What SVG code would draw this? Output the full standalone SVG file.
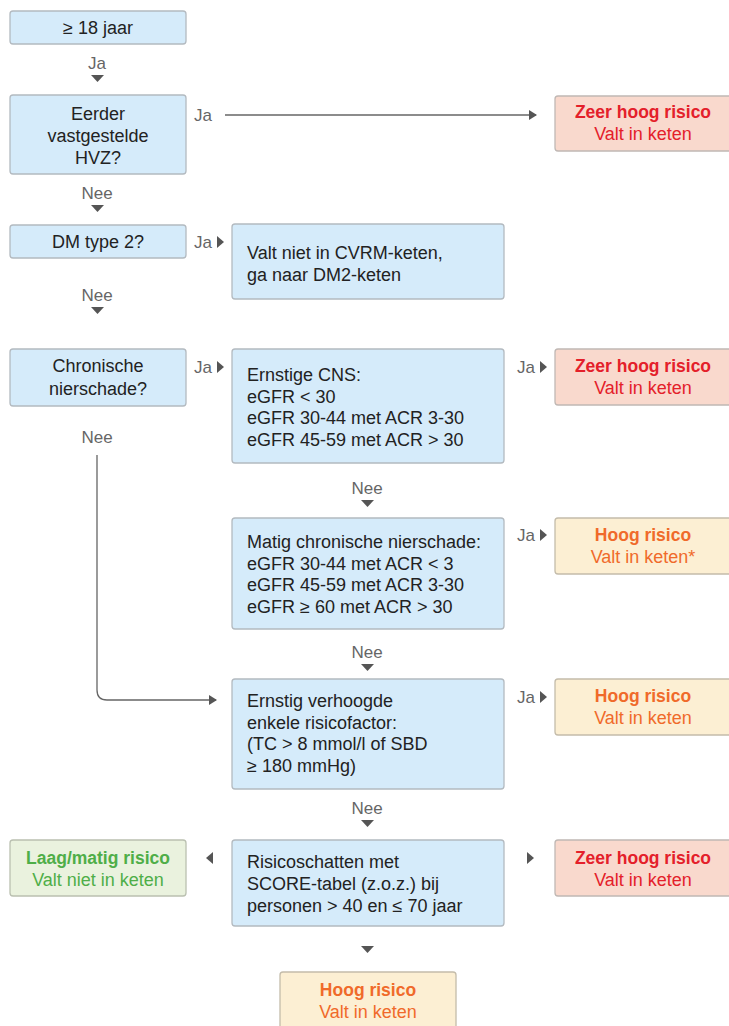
<svg xmlns="http://www.w3.org/2000/svg" width="729" height="1026" viewBox="0 0 729 1026">
<defs>
<style>
text{font-family:"Liberation Sans",Arial,sans-serif;font-size:18px;}
.b{fill:#d5ebfa;stroke:#b3bac0;stroke-width:1.3;}
.r{fill:#f9d9cd;stroke:#c0b8b4;stroke-width:1.3;}
.o{fill:#fcefd3;stroke:#c4bcaa;stroke-width:1.3;}
.g{fill:#eaf2de;stroke:#bac0b0;stroke-width:1.3;}
.t{fill:#222;}
.c{text-anchor:middle;}
.lbl{fill:#666;font-size:17px;}
.rt{fill:#e4202a;}
.ot{fill:#f06a2a;}
.gt{fill:#4fae48;}
.bold{font-weight:bold;font-size:17.5px;}
.tri{fill:#555;}
.ln{fill:none;stroke:#666;stroke-width:1.3;}
</style>
<marker id="ah" markerWidth="8" markerHeight="10" refX="7" refY="5" orient="auto" markerUnits="userSpaceOnUse"><path d="M0,0 L8,5 L0,10 Z" fill="#555"/></marker>
</defs>

<g id="n-age"><rect class="b" x="10" y="11" width="176" height="33" rx="3"/><text class="t c" x="98" y="34">≥ 18 jaar</text></g>
<g id="n-hvz"><rect class="b" x="10" y="95" width="176" height="79" rx="3"/><text class="t c" x="98" y="120">Eerder</text><text class="t c" x="98" y="142">vastgestelde</text><text class="t c" x="98" y="164">HVZ?</text></g>
<g id="n-zeer1"><rect class="r" x="555" y="96" width="178" height="55" rx="3"/><text class="rt c bold" x="643" y="118">Zeer hoog risico</text><text class="rt c" x="643" y="140">Valt in keten</text></g>
<g id="n-dm"><rect class="b" x="10" y="225" width="176" height="33" rx="3"/><text class="t c" x="98" y="248">DM type 2?</text></g>
<g id="n-dm2"><rect class="b" x="232" y="224" width="272" height="75" rx="3"/><text class="t" x="247" y="259">Valt niet in CVRM-keten,</text><text class="t" x="247" y="281">ga naar DM2-keten</text></g>
<g id="n-cns"><rect class="b" x="10" y="349" width="176" height="57" rx="3"/><text class="t c" x="98" y="372">Chronische</text><text class="t c" x="98" y="395">nierschade?</text></g>
<g id="n-ernstig"><rect class="b" x="232" y="349" width="272" height="114" rx="3"/><text class="t" x="247" y="381">Ernstige CNS:</text><text class="t" x="247" y="402.5">eGFR &lt; 30</text><text class="t" x="247" y="424">eGFR 30-44 met ACR 3-30</text><text class="t" x="247" y="445.5">eGFR 45-59 met ACR &gt; 30</text></g>
<g id="n-zeer2"><rect class="r" x="555" y="349" width="178" height="56" rx="3"/><text class="rt c bold" x="643" y="372">Zeer hoog risico</text><text class="rt c" x="643" y="394">Valt in keten</text></g>
<g id="n-matig"><rect class="b" x="232" y="518" width="272" height="111" rx="3"/><text class="t" x="247" y="548">Matig chronische nierschade:</text><text class="t" x="247" y="569.5">eGFR 30-44 met ACR &lt; 3</text><text class="t" x="247" y="591">eGFR 45-59 met ACR 3-30</text><text class="t" x="247" y="612.5">eGFR ≥ 60 met ACR &gt; 30</text></g>
<g id="n-hoog1"><rect class="o" x="555" y="518" width="178" height="56" rx="3"/><text class="ot c bold" x="643" y="541">Hoog risico</text><text class="ot c" x="643" y="563">Valt in keten*</text></g>
<g id="n-factor"><rect class="b" x="232" y="679" width="272" height="110" rx="3"/><text class="t" x="247" y="707">Ernstig verhoogde</text><text class="t" x="247" y="728.5">enkele risicofactor:</text><text class="t" x="247" y="750">(TC &gt; 8 mmol/l of SBD</text><text class="t" x="247" y="771.5">≥ 180 mmHg)</text></g>
<g id="n-hoog2"><rect class="o" x="555" y="679" width="178" height="56" rx="3"/><text class="ot c bold" x="643" y="702">Hoog risico</text><text class="ot c" x="643" y="724">Valt in keten</text></g>
<g id="n-score"><rect class="b" x="232" y="840" width="272" height="86" rx="3"/><text class="t" x="247" y="868">Risicoschatten met</text><text class="t" x="247" y="890">SCORE-tabel (z.o.z.) bij</text><text class="t" x="247" y="912">personen &gt; 40 en ≤ 70 jaar</text></g>
<g id="n-laag"><rect class="g" x="10" y="840" width="176" height="56" rx="3"/><text class="gt c bold" x="98" y="864">Laag/matig risico</text><text class="gt c" x="98" y="886">Valt niet in keten</text></g>
<g id="n-zeer3"><rect class="r" x="555" y="840" width="178" height="56" rx="3"/><text class="rt c bold" x="643" y="864">Zeer hoog risico</text><text class="rt c" x="643" y="886">Valt in keten</text></g>
<g id="n-hoog3"><rect class="o" x="280" y="972" width="176" height="60" rx="3"/><text class="ot c bold" x="368" y="996">Hoog risico</text><text class="ot c" x="368" y="1018">Valt in keten</text></g>

<g id="connectors">
<text class="lbl c" x="97" y="69">Ja</text><path class="tri" d="M91,75 L104,75 L97.5,82 Z"/>
<text class="lbl" x="194" y="121">Ja</text><line class="ln" x1="225" y1="115" x2="536" y2="115" marker-end="url(#ah)"/>
<text class="lbl c" x="97" y="199">Nee</text><path class="tri" d="M91,205 L104,205 L97.5,212 Z"/>
<text class="lbl" x="194" y="248">Ja</text><path class="tri" d="M217,236 L224,242 L217,248 Z"/>
<text class="lbl c" x="97" y="301">Nee</text><path class="tri" d="M91,307 L104,307 L97.5,314 Z"/>
<text class="lbl" x="194" y="373">Ja</text><path class="tri" d="M217,361 L224,367 L217,373 Z"/>
<text class="lbl" x="517" y="373">Ja</text><path class="tri" d="M540,361 L547,367 L540,373 Z"/>
<text class="lbl c" x="97" y="443">Nee</text>
<path class="ln" d="M97,455 L97,690 Q97,700 107,700 L216,700" marker-end="url(#ah)"/>
<text class="lbl c" x="367" y="494">Nee</text><path class="tri" d="M361,500 L374,500 L367.5,507 Z"/>
<text class="lbl" x="517" y="541">Ja</text><path class="tri" d="M540,529 L547,535 L540,541 Z"/>
<text class="lbl c" x="367" y="658">Nee</text><path class="tri" d="M361,664 L374,664 L367.5,671 Z"/>
<text class="lbl" x="517" y="703">Ja</text><path class="tri" d="M540,691 L547,697 L540,703 Z"/>
<text class="lbl c" x="367" y="814">Nee</text><path class="tri" d="M361,820 L374,820 L367.5,827 Z"/>
<path class="tri" d="M213,852 L206,858 L213,864 Z"/>
<path class="tri" d="M527,852 L534,858 L527,864 Z"/>
<path class="tri" d="M361,946 L374,946 L367.5,953 Z"/>
</g>
</svg>
